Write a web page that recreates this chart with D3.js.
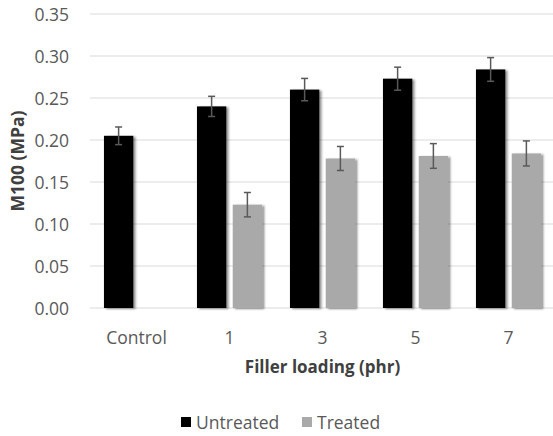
<!DOCTYPE html>
<html>
<head>
<meta charset="utf-8">
<script src="https://cdn.jsdelivr.net/npm/d3@7"></script>
<style>
  html, body { margin: 0; padding: 0; background: #fff; }
  svg { display: block; font-family: 'Open Sans', sans-serif; }
</style>
</head>
<body>
<div id="chart"></div>
<script>
const categories = ['Control', '1', '3', '5', '7'];
const seriesNames = ['Untreated', 'Treated'];
const untreated = [0.205, 0.240, 0.260, 0.273, 0.284];
const untreatedErr = [0.0105, 0.012, 0.0133, 0.0137, 0.0141];
const treated = [null, 0.123, 0.178, 0.181, 0.184];
const treatedErr = [null, 0.0145, 0.0143, 0.0147, 0.0149];
const yTicks = [0, 0.05, 0.1, 0.15, 0.2, 0.25, 0.3, 0.35];
const colors = ['#000000', '#a9a9a9'];

const barChart = (containerId, width = 553, height = 436) => {
  const container = d3.select(`#${containerId}`);

  const left = 90;
  const right = 555;
  const top = 14;
  const bottom = 308;

  const xScale = d3
    .scaleBand()
    .domain(categories)
    .range([left, right])
    .paddingInner(0.3)
    .paddingOuter(0.15);

  const subScale = d3
    .scaleBand()
    .domain(seriesNames)
    .range([0, xScale.bandwidth()])
    .paddingInner(0.18);

  const yScale = d3.scaleLinear().domain([0, 0.35]).range([bottom, top]);

  const svg = container
    .append('svg')
    .attr('width', width)
    .attr('height', height);

  const defs = svg.append('defs');
  defs
    .append('filter')
    .attr('id', 'shadow')
    .attr('x', '-20%')
    .attr('y', '-20%')
    .attr('width', '150%')
    .attr('height', '140%')
    .append('feDropShadow')
    .attr('dx', 2.2)
    .attr('dy', 1)
    .attr('stdDeviation', 1.1)
    .attr('flood-color', '#000')
    .attr('flood-opacity', 0.45);

  // gridlines
  svg
    .append('g')
    .selectAll('line')
    .data(yTicks)
    .enter()
    .append('line')
    .attr('x1', left)
    .attr('x2', width)
    .attr('y1', (d) => yScale(d))
    .attr('y2', (d) => yScale(d))
    .attr('stroke', '#d9d9d9')
    .attr('stroke-width', 1.2);

  const yAxis = (g) => {
    g.attr('transform', `translate(${left - 18}, 0)`)
      .call(d3.axisLeft(yScale).tickValues(yTicks).tickFormat(d3.format('.2f')).tickSize(0))
      .call((s) => s.select('.domain').remove())
      .call((s) =>
        s
          .selectAll('text')
          .attr('fill', '#595959')
          .attr('font-size', 17.5)
          .attr('font-family', "'Open Sans', sans-serif")
          .attr('dy', '0.36em'),
      );
  };

  const xAxis = (g) => {
    g.attr('transform', `translate(0, ${bottom + 21})`)
      .call(d3.axisBottom(xScale).tickSize(0))
      .call((s) => s.select('.domain').remove())
      .call((s) =>
        s
          .selectAll('text')
          .attr('fill', '#595959')
          .attr('font-size', 17.5)
          .attr('font-family', "'Open Sans', sans-serif")
          .attr('dy', '0.71em'),
      );
  };
  svg.append('g').call(yAxis);
  svg.append('g').call(xAxis);

  const datasets = [
    { name: seriesNames[0], values: untreated, errs: untreatedErr, color: colors[0] },
    { name: seriesNames[1], values: treated, errs: treatedErr, color: colors[1] },
  ];

  datasets.forEach((ds) => {
    const points = categories
      .map((c, i) => ({ cat: c, v: ds.values[i], e: ds.errs[i] }))
      .filter((d) => d.v !== null);
    const xPos = (d) => xScale(d.cat) + subScale(ds.name);

    svg
      .append('g')
      .selectAll('rect')
      .data(points)
      .enter()
      .append('rect')
      .attr('x', xPos)
      .attr('y', (d) => yScale(d.v))
      .attr('width', subScale.bandwidth())
      .attr('height', (d) => yScale(0) - yScale(d.v))
      .attr('fill', ds.color)
      .attr('filter', 'url(#shadow)');

    const err = svg.append('g').attr('stroke', '#595959').attr('stroke-width', 1.5);
    const cx = (d) => xPos(d) + subScale.bandwidth() / 2;
    points.forEach((d) => {
      err
        .append('line')
        .attr('x1', cx(d))
        .attr('x2', cx(d))
        .attr('y1', yScale(d.v + d.e))
        .attr('y2', yScale(d.v - d.e));
      [d.v + d.e, d.v - d.e].forEach((y) => {
        err
          .append('line')
          .attr('x1', cx(d) - 3.5)
          .attr('x2', cx(d) + 3.5)
          .attr('y1', yScale(y))
          .attr('y2', yScale(y));
      });
    });
  });

  svg
    .append('text')
    .attr('text-anchor', 'middle')
    .attr('x', -(top + bottom) / 2)
    .attr('y', 24)
    .attr('transform', 'rotate(-90)')
    .attr('font-size', 17.5)
    .attr('font-weight', 'bold')
    .attr('fill', '#404040')
    .text('M100 (MPa)');

  svg
    .append('text')
    .attr('text-anchor', 'middle')
    .attr('x', (left + right) / 2)
    .attr('y', 373)
    .attr('font-size', 17)
    .attr('font-weight', 'bold')
    .attr('fill', '#404040')
    .text('Filler loading (phr)');

  // legend
  const legendX = [181, 302];
  datasets.forEach((ds, index) => {
    svg
      .append('rect')
      .attr('x', legendX[index])
      .attr('y', 417)
      .attr('width', 10)
      .attr('height', 10)
      .attr('fill', ds.color);
    svg
      .append('text')
      .attr('x', legendX[index] + 15)
      .attr('y', 429)
      .attr('font-size', 17.5)
      .attr('fill', '#595959')
      .text(ds.name);
  });
};

barChart('chart');
</script>
</body>
</html>
